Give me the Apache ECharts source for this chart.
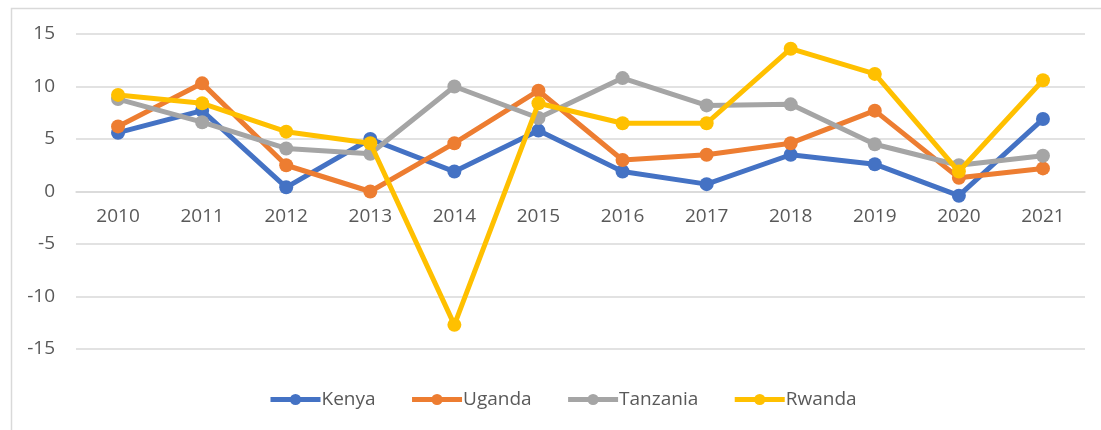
<!DOCTYPE html>
<html>
<head>
<meta charset="utf-8">
<script src="https://cdn.jsdelivr.net/npm/echarts@6/dist/echarts.min.js"></script>
<style>
html,body{margin:0;padding:0;background:#fff;}
#c{width:1101px;height:430px;}
</style>
</head>
<body>
<div id="c"></div>
<script>
const years = ['2010','2011','2012','2013','2014','2015','2016','2017','2018','2019','2020','2021'];
const kenya    = [5.6, 7.7, 0.4, 5.0, 1.9, 5.8, 1.9, 0.7, 3.5, 2.6, -0.4, 6.9];
const uganda   = [6.2, 10.3, 2.5, 0.0, 4.6, 9.6, 3.0, 3.5, 4.6, 7.7, 1.3, 2.2];
const tanzania = [8.8, 6.6, 4.1, 3.6, 10.0, 7.0, 10.8, 8.2, 8.3, 4.5, 2.5, 3.4];
const rwanda   = [9.2, 8.4, 5.7, 4.6, -12.7, 8.4, 6.5, 6.5, 13.6, 11.2, 1.9, 10.6];
const yTicks = { min: -15, max: 15, interval: 5 };

const names = ['Kenya','Uganda','Tanzania','Rwanda'];
const colors = ['#4472C4','#ED7D31','#A5A5A5','#FFC000'];
const datas = [kenya, uganda, tanzania, rwanda];

const chart = echarts.init(document.getElementById('c'), null, {renderer:'canvas'});
const font = 'Open Sans, Noto Sans, sans-serif';
const gridTop = 34, gridBottom = 81, H = 430;
const plotH = H - gridTop - gridBottom;
const zeroOffset = -plotH * (0 - yTicks.min) / (yTicks.max - yTicks.min);
chart.setOption({
  animation: false,
  backgroundColor: '#fff',
  textStyle: { fontFamily: font },
  graphic: [{
    type: 'rect', left: 9, top: 6, z: -1,
    shape: { width: 1200, height: 500 },
    style: { fill: 'none', stroke: '#d9d9d9', lineWidth: 1.5 }
  }],
  grid: { left: 76, right: 16, top: gridTop, bottom: gridBottom, containLabel: false },
  legend: {
    data: names,
    top: 385,
    left: 263,
    itemWidth: 50,
    itemHeight: 14,
    itemGap: 34,
    lineStyle: { width: 5 },
    textStyle: { fontSize: 19, color: '#595959', fontFamily: font, padding: [0,0,0,-4] }
  },
  xAxis: {
    type: 'category',
    data: years,
    boundaryGap: true,
    offset: zeroOffset,
    axisLine: { onZero: false, lineStyle: { color: '#d9d9d9', width: 1.5 } },
    axisTick: { show: false },
    axisLabel: { fontSize: 19, color: '#595959', margin: 16, fontFamily: font },
    splitLine: { show: false }
  },
  yAxis: {
    type: 'value',
    min: yTicks.min, max: yTicks.max, interval: yTicks.interval,
    axisLine: { show: false },
    axisTick: { show: false },
    axisLabel: { fontSize: 19, color: '#595959', margin: 21, fontFamily: font },
    splitLine: { lineStyle: { color: '#d9d9d9', width: 1.5 } }
  },
  series: datas.map((d, i) => ({
    name: names[i],
    type: 'line',
    data: d,
    color: colors[i],
    symbol: 'circle',
    symbolSize: 14,
    lineStyle: { width: 5, color: colors[i] },
    itemStyle: { color: colors[i] },
    z: 2 + i
  }))
});
</script>
</body>
</html>
